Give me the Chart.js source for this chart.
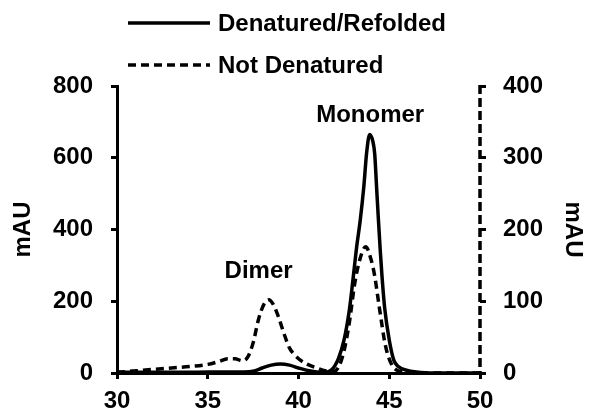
<!DOCTYPE html>
<html>
<head>
<meta charset="utf-8">
<script src="https://cdn.jsdelivr.net/npm/chart.js@4.4.0/dist/chart.umd.min.js"></script>
<style>
  html, body { margin: 0; padding: 0; background: #fff; }
</style>
</head>
<body>
<canvas id="chart" width="592" height="414"></canvas>
<script>
// elution volume (mL) vs absorbance (mAU)
const refoldedVolume = [30, 32, 34, 36, 37, 37.5, 38, 38.5, 39, 39.5, 40, 40.5, 41, 41.5, 41.8, 42, 42.2, 42.5, 42.8, 43, 43.2, 43.4, 43.6, 43.75, 43.92, 44.1, 44.2, 44.3, 44.4, 44.5, 44.6, 44.75, 45, 45.25, 45.5, 46, 46.5, 47, 48, 50]
const refoldedMAU = [2, 2, 2, 3, 3, 5, 14, 22, 25, 22, 14, 7, 3, 2, 8, 20, 40, 90, 175, 260, 350, 425, 520, 612, 665, 645, 610, 520, 430, 345, 270, 180, 92, 36, 18, 7, 3, 1, 0, 0]

const nativeVolume = [30, 31, 32, 33, 34, 35, 35.6, 36.1, 36.5, 36.9, 37.2, 37.5, 37.8, 38.1, 38.35, 38.6, 38.9, 39.2, 39.5, 39.8, 40.1, 40.5, 41, 41.5, 41.9, 42.2, 42.5, 42.8, 43.1, 43.4, 43.7, 44, 44.2, 44.45, 44.8, 45.15, 45.5, 46, 47, 50]
const nativeMAU = [1, 3, 5, 7, 9, 12, 16, 20, 20, 17, 22, 42, 75, 96, 102, 96, 78, 55, 35, 25, 18, 12, 7, 3, 2, 8, 30, 70, 125, 160, 176, 158, 135, 92, 37, 11, 3, 1, 0, 0]

const seriesLabels = ['Denatured/Refolded', 'Not Denatured']

const xRange = [30, 50, 5]
const leftRange = [0, 800, 200]
const rightRange = [0, 400, 100]

const peakLabels = ['Monomer', 'Dimer']
const peakLabelX = [43.95, 37.8]
const peakLabelY = [718, 283]

const FONT = "'Liberation Sans', Arial, sans-serif"
const DASH = [8, 5]

const legendPlugin = {
  id: 'lineLegend',
  afterDraw(chart) {
    const ctx = chart.ctx
    ctx.save()
    chart.data.datasets.forEach((ds, i) => {
      const y = 23 + i * 42
      ctx.strokeStyle = '#000'
      ctx.lineWidth = 3.5
      ctx.setLineDash(ds.borderDash || [])
      ctx.beginPath()
      ctx.moveTo(128, y)
      ctx.lineTo(210, y)
      ctx.stroke()
      ctx.setLineDash([])
      ctx.fillStyle = '#000'
      ctx.font = 'bold 24px ' + FONT
      ctx.textBaseline = 'middle'
      ctx.textAlign = 'left'
      ctx.fillText(ds.label, 218, y + 1)
    })
    ctx.restore()
  },
}

// the right-hand axis line is dashed, matching the series it belongs to
const dashedAxisPlugin = {
  id: 'dashedAxis',
  afterDraw(chart) {
    const s = chart.scales.y2
    const ctx = chart.ctx
    ctx.save()
    ctx.strokeStyle = '#000'
    ctx.lineWidth = 3.5
    ctx.setLineDash([9, 4])
    ctx.beginPath()
    ctx.moveTo(s.left, s.top - 1)
    ctx.lineTo(s.left, s.bottom)
    ctx.stroke()
    ctx.restore()
  },
}

const peakPlugin = {
  id: 'peakLabels',
  afterDraw(chart) {
    const ctx = chart.ctx
    const x = chart.scales.x
    const y = chart.scales.y
    ctx.save()
    ctx.fillStyle = '#000'
    ctx.font = 'bold 24px ' + FONT
    ctx.textAlign = 'center'
    ctx.textBaseline = 'middle'
    peakLabels.forEach((t, i) => {
      ctx.fillText(t, x.getPixelForValue(peakLabelX[i]), y.getPixelForValue(peakLabelY[i]))
    })
    ctx.restore()
  },
}

function axisStyle(range, padding, extra) {
  return Object.assign({
    min: range[0],
    max: range[1],
    ticks: {
      stepSize: range[2],
      color: '#000',
      font: { family: FONT, size: 24, weight: 'bold' },
      padding: padding,
    },
    grid: {
      drawOnChartArea: false,
      drawTicks: true,
      tickLength: 6,
      color: '#000',
      lineWidth: 3,
    },
    border: { display: true, color: '#000', width: 3 },
  }, extra)
}

const titleStyle = (pad) => ({
  display: true,
  text: 'mAU',
  color: '#000',
  font: { family: FONT, size: 24, weight: 'bold' },
  padding: pad,
})

const toPoints = (xs, ys) => xs.map((v, i) => ({ x: v, y: ys[i] }))

new Chart(document.getElementById('chart'), {
  type: 'line',
  data: {
    datasets: [
      {
        label: seriesLabels[0],
        data: toPoints(refoldedVolume, refoldedMAU),
        yAxisID: 'y',
        borderColor: '#000',
        borderWidth: 3.5,
        pointRadius: 0,
        cubicInterpolationMode: 'monotone',
        fill: false,
      },
      {
        label: seriesLabels[1],
        data: toPoints(nativeVolume, nativeMAU),
        yAxisID: 'y2',
        borderColor: '#000',
        borderWidth: 3.5,
        borderDash: DASH,
        pointRadius: 0,
        cubicInterpolationMode: 'monotone',
        fill: false,
      },
    ],
  },
  options: {
    responsive: false,
    animation: false,
    layout: { padding: { top: 86, left: 0, right: 0, bottom: 0 } },
    plugins: {
      legend: { display: false },
      tooltip: { enabled: false },
    },
    scales: {
      x: axisStyle(xRange, 8, {
        type: 'linear',
        afterFit: (s) => { s.height = 41 },
      }),
      y: axisStyle(leftRange, 18, {
        position: 'left',
        title: titleStyle({ top: 9, bottom: 0 }),
        afterFit: (s) => { s.width = 117 },
      }),
      y2: axisStyle(rightRange, 17, {
        position: 'right',
        border: { display: false },
        title: titleStyle({ top: 5, bottom: 0 }),
        afterFit: (s) => { s.width = 112 },
      }),
    },
  },
  plugins: [legendPlugin, dashedAxisPlugin, peakPlugin],
})
</script>
</body>
</html>
